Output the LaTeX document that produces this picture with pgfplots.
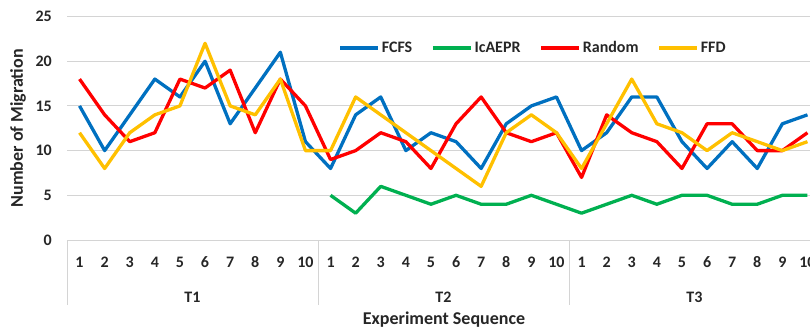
\documentclass[border=0pt]{standalone}
\usepackage{pgfplots}
\pgfplotsset{compat=1.18}
\usepackage{fontspec}
\setmainfont{Carlito}
\definecolor{cfcfs}{HTML}{0070C0}
\definecolor{cic}{HTML}{00B050}
\definecolor{crand}{HTML}{FF0000}
\definecolor{cffd}{HTML}{FFC000}
\begin{document}
\begin{tikzpicture}
\begin{axis}[
  at={(67pt,-240pt)}, anchor=south west,
  scale only axis, width=753pt, height=223.5pt,
  xmin=0.5, xmax=30.5, ymin=0, ymax=25,
  xtick={1,...,30},
  xticklabels={1,2,3,4,5,6,7,8,9,10,1,2,3,4,5,6,7,8,9,10,1,2,3,4,5,6,7,8,9,10},
  ytick={0,5,10,15,20,25},
  major tick length=0pt,
  ymajorgrids, grid style={draw=black!17, line width=1pt},
  axis y line*=left, y axis line style={draw=none},
  axis x line*=bottom, x axis line style={draw=black!17, line width=1pt},
  clip=false,
  /pgf/number format/assume math mode=true,
  tick label style={font=\bfseries\fontsize{16}{16}\selectfont, text=black!85},
  xticklabel style={anchor=center, yshift=-22pt, inner sep=0pt},
  yticklabel style={anchor=east, xshift=-15pt, inner sep=0pt},
  ylabel={Number of Migration},
  ylabel style={at={(axis description cs:-0.065,0.5)}, anchor=center, font=\bfseries\fontsize{18}{18}\selectfont, text=black!85},
  xlabel={Experiment Sequence},
  xlabel style={at={(axis description cs:0.5007,-0.356)}, anchor=center, font=\bfseries\fontsize{18}{18}\selectfont, text=black!85},
  legend columns=4,
  legend style={at={(rel axis cs:0.619,0.859)}, anchor=center, draw=none, fill=none,
    font=\bfseries\fontsize{16}{16}\selectfont, text=black!85,
    /tikz/every even column/.append style={column sep=17pt}},
  legend image code/.code={\draw[#1] (0pt,0pt) -- (38pt,0pt);},
  every axis plot/.append style={line width=3.3pt, line join=round, mark=none},
]
\addplot[cfcfs] coordinates {
(1,15)(2,10)(3,14)(4,18)(5,16)(6,20)(7,13)(8,17)(9,21)(10,11)
(11,8)(12,14)(13,16)(14,10)(15,12)(16,11)(17,8)(18,13)(19,15)(20,16)
(21,10)(22,12)(23,16)(24,16)(25,11)(26,8)(27,11)(28,8)(29,13)(30,14)};
\addlegendentry{FCFS}
\addplot[cic] coordinates {
(11,5)(12,3)(13,6)(14,5)(15,4)(16,5)(17,4)(18,4)(19,5)(20,4)
(21,3)(22,4)(23,5)(24,4)(25,5)(26,5)(27,4)(28,4)(29,5)(30,5)};
\addlegendentry{IcAEPR}
\addplot[crand] coordinates {
(1,18)(2,14)(3,11)(4,12)(5,18)(6,17)(7,19)(8,12)(9,18)(10,15)
(11,9)(12,10)(13,12)(14,11)(15,8)(16,13)(17,16)(18,12)(19,11)(20,12)
(21,7)(22,14)(23,12)(24,11)(25,8)(26,13)(27,13)(28,10)(29,10)(30,12)};
\addlegendentry{Random}
\addplot[cffd] coordinates {
(1,12)(2,8)(3,12)(4,14)(5,15)(6,22)(7,15)(8,14)(9,18)(10,10)
(11,10)(12,16)(13,14)(14,12)(15,10)(16,8)(17,6)(18,12)(19,14)(20,12)
(21,8)(22,13)(23,18)(24,13)(25,12)(26,10)(27,12)(28,11)(29,10)(30,11)};
\addlegendentry{FFD}
\draw[black!17, line width=1pt] (axis cs:0.5,0) -- ++(0pt,-65pt);
\draw[black!17, line width=1pt] (axis cs:10.5,0) -- ++(0pt,-65pt);
\draw[black!17, line width=1pt] (axis cs:20.5,0) -- ++(0pt,-65pt);
\draw[black!17, line width=1pt] (axis cs:30.5,0) -- ++(0pt,-65pt);
\node[font=\bfseries\fontsize{16}{16}\selectfont, text=black!85, yshift=-57pt] at (axis cs:5.5,0) {T1};
\node[font=\bfseries\fontsize{16}{16}\selectfont, text=black!85, yshift=-57pt] at (axis cs:15.5,0) {T2};
\node[font=\bfseries\fontsize{16}{16}\selectfont, text=black!85, yshift=-57pt] at (axis cs:25.5,0) {T3};
\end{axis}
\pgfresetboundingbox
\path[use as bounding box] (0pt,0pt) rectangle (810pt,-329pt);
\end{tikzpicture}
\end{document}
